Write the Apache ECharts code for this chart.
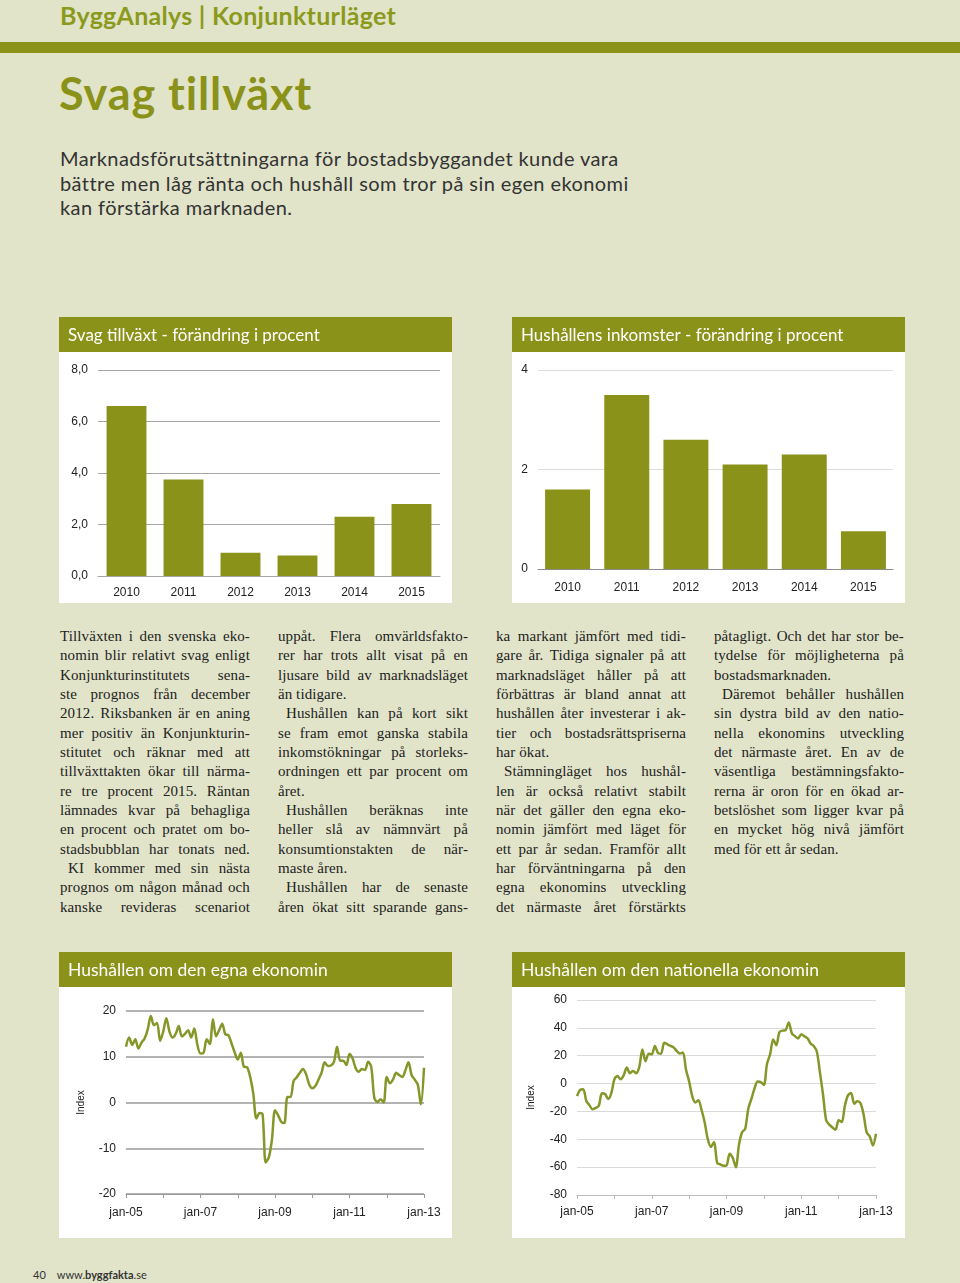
<!DOCTYPE html>
<html><head><meta charset="utf-8">
<script src="https://cdn.jsdelivr.net/npm/echarts@6/dist/echarts.min.js"></script>
<style>
html,body{margin:0;padding:0;}
body{width:960px;height:1283px;background:#e1e4c9;position:relative;overflow:hidden;font-family:Lato,sans-serif;}
.abs{position:absolute;white-space:nowrap;}
#hdr{left:60px;top:0px;font-size:25px;line-height:30px;font-weight:700;color:#8b9a1c;}
#rule{left:0;top:42px;width:960px;height:11px;background:#8b9219;}
#title{left:59px;top:66px;font-size:45px;line-height:54px;font-weight:700;color:#8b9219;}
#lead{left:60px;top:146px;font-size:20px;line-height:24.5px;color:#333;}
#lead span{display:inline-block;}
.col{position:absolute;top:627px;width:190px;font-family:'Liberation Serif',serif;font-size:15px;letter-spacing:0.1px;line-height:19.33px;color:#222;}
.col .ln{display:flex;justify-content:space-between;white-space:nowrap;height:19.33px;}
.col .ln.left{justify-content:flex-start;gap:0.25em;}
.col .ln.ind{padding-left:8px;}
.panel{position:absolute;width:393px;height:286px;background:#fff;}
#foot{left:33px;top:1268px;font-size:11px;line-height:14px;color:#333;}
</style></head>
<body>
<div id="hdr" class="abs">ByggAnalys | Konjunkturläget</div>
<div id="rule" class="abs"></div>
<div id="title" class="abs">Svag tillväxt</div>
<div id="lead" class="abs"><span id="lead1">Marknadsförutsättningarna för bostadsbyggandet kunde vara</span><br><span>bättre men låg ränta och hushåll som tror på sin egen ekonomi</span><br><span>kan förstärka marknaden.</span></div>

<div id="c1" class="panel" style="left:59px;top:317px;"></div>
<div id="c2" class="panel" style="left:512px;top:317px;"></div>
<div id="col1" class="col" style="left:60px"></div>
<div id="col2" class="col" style="left:278px"></div>
<div id="col3" class="col" style="left:496px"></div>
<div id="col4" class="col" style="left:714px"></div>
<div id="c3" class="panel" style="left:59px;top:952px;"></div>
<div id="c4" class="panel" style="left:512px;top:952px;"></div>
<div id="foot" class="abs">40&nbsp;&nbsp;&nbsp; www.<b>byggfakta</b>.se</div>

<script>
// ---------- DATA ----------
const barYears = ['2010','2011','2012','2013','2014','2015'];
const growthValues = [6.6, 3.75, 0.9, 0.8, 2.3, 2.8];
const incomeValues = [1.6, 3.5, 2.6, 2.1, 2.3, 0.76];

const monthNames = ['jan','feb','mar','apr','maj','jun','jul','aug','sep','okt','nov','dec'];
const lineYears = ['05','06','07','08','09','10','11','12','13'];

const egnaValues = [
 12.2,14.2,12.6,13.8,11.8,13.1,14.0,16.0,18.9,16.9,
 17.4,13.5,15.5,18.4,15.5,14.2,15.0,16.7,14.4,15.0,
 15.8,14.2,16.2,12.6,10.7,10.9,13.8,12.8,18.2,14.5,
 15.8,17.2,14.9,14.7,12.9,11.0,9.4,10.9,7.8,7.7,
 5.6,2.0,-3.5,-2.3,-2.6,-13.1,-12.0,-8.2,-1.7,-2.8,
 -4.2,-4.5,1.2,1.2,4.7,5.5,6.5,7.3,6.2,4.0,
 3.1,3.6,5.0,6.5,8.8,8.0,8.1,8.9,12.2,9.1,
 9.1,8.2,10.6,9.6,7.5,6.7,7.3,7.1,8.9,7.8,
 1.0,0.1,0.7,0.0,5.6,4.2,5.0,6.5,6.0,5.6,
 7.0,8.8,6.0,5.0,3.9,-0.4,7.6
];
const nationellaValues = [
 -9.0,-4.5,-4.0,-12.5,-15.5,-18.5,-17.5,-16.0,-7.0,-7.5,
 -11.0,-7.0,3.0,5.5,3.1,6.0,11.5,7.5,9.0,7.5,
 12.0,24.5,16.0,21.5,20.9,27.0,22.0,21.5,29.3,28.2,
 27.1,26.0,23.5,21.6,22.3,10.0,1.5,-9.0,-13.5,-12.0,
 -19.0,-28.0,-40.0,-45.5,-42.0,-56.9,-58.0,-59.0,-58.8,-50.4,
 -53.3,-60.0,-44.0,-35.0,-32.4,-18.0,-11.0,-3.5,1.5,1.0,
 -1.0,14.0,21.0,31.7,27.6,37.0,38.0,38.5,43.9,36.0,
 34.0,32.4,35.5,34.0,32.5,28.8,27.0,23.0,8.0,-8.0,
 -26.4,-29.5,-31.5,-33.1,-26.4,-27.6,-16.0,-8.5,-6.7,-14.4,
 -12.7,-14.0,-22.0,-35.0,-38.0,-44.4,-36.0
];

const col1Lines = [
 ['Tillväxten i den svenska eko-','j'],
 ['nomin blir relativt svag enligt','j'],
 ['Konjunkturinstitutets sena-','j'],
 ['ste prognos från december','j'],
 ['2012. Riksbanken är en aning','j'],
 ['mer positiv än Konjunkturin-','j'],
 ['stitutet och räknar med att','j'],
 ['tillväxttakten ökar till närma-','j'],
 ['re tre procent 2015. Räntan','j'],
 ['lämnades kvar på behagliga','j'],
 ['en procent och pratet om bo-','j'],
 ['stadsbubblan har tonats ned.','j'],
 ['KI kommer med sin nästa','ji'],
 ['prognos om någon månad och','j'],
 ['kanske revideras scenariot','j']
];
const col2Lines = [
 ['uppåt. Flera omvärldsfakto-','j'],
 ['rer har trots allt visat på en','j'],
 ['ljusare bild av marknadsläget','j'],
 ['än tidigare.','l'],
 ['Hushållen kan på kort sikt','ji'],
 ['se fram emot ganska stabila','j'],
 ['inkomstökningar på storleks-','j'],
 ['ordningen ett par procent om','j'],
 ['året.','l'],
 ['Hushållen beräknas inte','ji'],
 ['heller slå av nämnvärt på','j'],
 ['konsumtionstakten de när-','j'],
 ['maste åren.','l'],
 ['Hushållen har de senaste','ji'],
 ['åren ökat sitt sparande gans-','j']
];
const col3Lines = [
 ['ka markant jämfört med tidi-','j'],
 ['gare år. Tidiga signaler på att','j'],
 ['marknadsläget håller på att','j'],
 ['förbättras är bland annat att','j'],
 ['hushållen åter investerar i ak-','j'],
 ['tier och bostadsrättspriserna','j'],
 ['har ökat.','l'],
 ['Stämningläget hos hushål-','ji'],
 ['len är också relativt stabilt','j'],
 ['när det gäller den egna eko-','j'],
 ['nomin jämfört med läget för','j'],
 ['ett par år sedan. Framför allt','j'],
 ['har förväntningarna på den','j'],
 ['egna ekonomins utveckling','j'],
 ['det närmaste året förstärkts','j']
];
const col4Lines = [
 ['påtagligt. Och det har stor be-','j'],
 ['tydelse för möjligheterna på','j'],
 ['bostadsmarknaden.','l'],
 ['Däremot behåller hushållen','ji'],
 ['sin dystra bild av den natio-','j'],
 ['nella ekonomins utveckling','j'],
 ['det närmaste året. En av de','j'],
 ['väsentliga bestämningsfakto-','j'],
 ['rerna är oron för en ökad ar-','j'],
 ['betslöshet som ligger kvar på','j'],
 ['en mycket hög nivå jämfört','j'],
 ['med för ett år sedan.','l']
];

// ---------- TEXT LAYOUT ----------
function fill(id, lines){
  const el = document.getElementById(id);
  lines.forEach(([t, k]) => {
    const d = document.createElement('div');
    d.className = 'ln' + (k.indexOf('l')>=0 ? ' left' : '') + (k.indexOf('i')>=0 ? ' ind' : '');
    t.split(' ').forEach(w => { const s = document.createElement('span'); s.textContent = w; d.appendChild(s); });
    el.appendChild(d);
  });
}
fill('col1', col1Lines); fill('col2', col2Lines); fill('col3', col3Lines); fill('col4', col4Lines);

function fitSpacing(el, target){
  const w = el.getBoundingClientRect().width;
  const n = el.textContent.length;
  return (target - w) / n;
}
(function(){
  const h = document.getElementById('hdr');
  h.style.letterSpacing = fitSpacing(h, 336) + 'px';
  const t = document.getElementById('title');
  t.style.letterSpacing = fitSpacing(t, 254) + 'px';
  const l1 = document.getElementById('lead1');
  document.getElementById('lead').style.letterSpacing = fitSpacing(l1, 558) + 'px';
})();

// ---------- CHARTS ----------
const OLIVE = '#8b9219';
const LINEC = '#86972a';
const AXFONT = 'Liberation Sans';

const months = [];
lineYears.forEach(y => monthNames.forEach(m => months.push(m + '-' + y)));
const monthCats = months.slice(0, egnaValues.length);

function head(text, fs, top){
  return {
    graphic: [{type:'rect', shape:{x:0, y:0, width:393, height:35}, style:{fill:OLIVE}, z:0}],
    title: {text, left: 9, top: top, padding: 0, textStyle:{color:'#fff', fontFamily:'Lato', fontWeight:'normal', fontSize: fs}}
  };
}

const c1 = echarts.init(document.getElementById('c1'), null, {renderer:'canvas'});
c1.setOption(Object.assign(head('Svag tillväxt - förändring i procent', 17, 10), {
  animation:false, backgroundColor:'#fff',
  grid:{left:39, right:12, top:53, bottom:27},
  xAxis:{type:'category', data:barYears, axisTick:{show:false},
    axisLine:{lineStyle:{color:'#a6a6a6'}},
    axisLabel:{color:'#222', fontFamily:AXFONT, fontSize:12, margin:11}},
  yAxis:{type:'value', min:0, max:8, interval:2,
    axisLabel:{color:'#222', fontFamily:AXFONT, fontSize:12, margin:10, formatter: v => v.toFixed(1).replace('.', ',')},
    splitLine:{lineStyle:{color:'#a6a6a6'}}},
  series:[{type:'bar', data:growthValues, barCategoryGap:'30%', itemStyle:{color:OLIVE}}]
}));

const c2 = echarts.init(document.getElementById('c2'));
c2.setOption(Object.assign(head('Hushållens inkomster - förändring i procent', 17, 10), {
  animation:false, backgroundColor:'#fff',
  grid:{left:26, right:12, top:53, bottom:34},
  xAxis:{type:'category', data:barYears, axisTick:{show:false},
    axisLine:{lineStyle:{color:'#8c8c8c'}},
    axisLabel:{color:'#222', fontFamily:AXFONT, fontSize:12, margin:13}},
  yAxis:{type:'value', min:0, max:4, interval:2,
    axisLabel:{color:'#222', fontFamily:AXFONT, fontSize:12, margin:10},
    splitLine:{lineStyle:{color:'#dcdcdc'}}},
  series:[{type:'bar', data:incomeValues, barCategoryGap:'24%', itemStyle:{color:OLIVE}}]
}));

function lineOpt(title, data, grid, ymin, ymax, step, gridColor, axisColor, gridWidth, nameGap, labMargin){
  return Object.assign(head(title, 17.5, 9), {
    animation:false, backgroundColor:'#fff',
    grid,
    xAxis:{type:'category', data:monthCats, boundaryGap:false,
      axisLine:{onZero:false, lineStyle:{color:axisColor}},
      axisTick:{show:true, interval:11, length:4, lineStyle:{color:axisColor}},
      axisLabel:{interval:23, color:'#222', fontFamily:AXFONT, fontSize:12, margin:labMargin},
      splitLine:{show:false}},
    yAxis:{type:'value', min:ymin, max:ymax, interval:step,
      name:'Index', nameLocation:'middle', nameRotate:90, nameGap,
      nameTextStyle:{color:'#222', fontFamily:AXFONT, fontSize:10},
      axisLabel:{color:'#222', fontFamily:AXFONT, fontSize:12, margin:10},
      splitLine:{lineStyle:{color:gridColor, width:gridWidth}}},
    series:[{type:'line', data, showSymbol:false, smooth:0.3,
      lineStyle:{color:LINEC, width:2.5}}]
  });
}

const c3 = echarts.init(document.getElementById('c3'));
c3.setOption(lineOpt('Hushållen om den egna ekonomin', egnaValues,
  {left:67, right:28, top:59, bottom:44}, -20, 20, 10, '#9a9a9a', '#9a9a9a', 1.5, 40, 13));

const c4 = echarts.init(document.getElementById('c4'));
c4.setOption(lineOpt('Hushållen om den nationella ekonomin', nationellaValues,
  {left:65, right:29, top:48, bottom:43}, -80, 60, 20, '#dadada', '#bdbdbd', 1, 41, 11));
</script>
</body></html>
